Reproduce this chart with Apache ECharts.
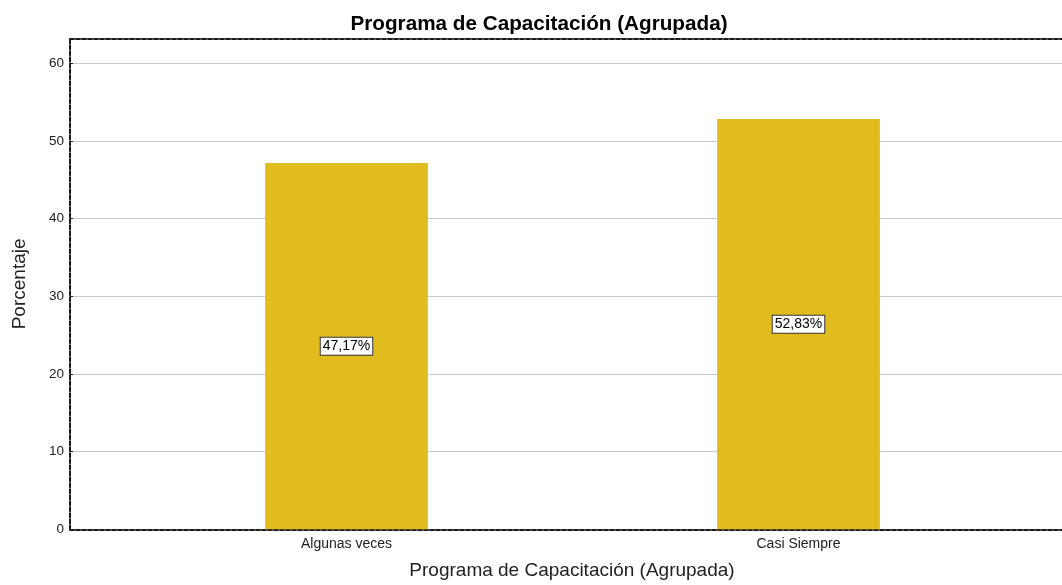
<!DOCTYPE html>
<html>
<head>
<meta charset="utf-8">
<script src="https://cdn.jsdelivr.net/npm/echarts@6/dist/echarts.min.js"></script>
<style>
  html, body { margin: 0; padding: 0; background: #fff; }
  #chart { width: 1062px; height: 585px; }
</style>
</head>
<body>
<div id="chart"></div>
<script>
// data
const categories = ["Algunas veces", "Casi Siempre"];
const percentages = [47.17, 52.83];
const yMax = 63.2;
const yStep = 10;

const font = "Liberation Sans, Arial, sans-serif";
const gridTop = 38.5;
const gridBottom = 55.7;
const dashed = { color: "#1a1a1a", width: 2, type: [4, 2] };

const chart = echarts.init(document.getElementById("chart"));

chart.setOption({
  animation: false,
  backgroundColor: "#fff",
  title: {
    text: "Programa de Capacitación (Agrupada)",
    left: 534,
    top: 9,
    textAlign: "center",
    textStyle: { fontFamily: font, fontSize: 20.7, fontWeight: "bold", color: "#000" }
  },
  grid: [
    // frame: axis, gridlines and dashed border (right edge runs off the picture)
    { left: 70, right: -12, top: gridTop, bottom: gridBottom, outerBoundsMode: "none" },
    // bars
    { left: 120.5, right: 37.5, top: gridTop, bottom: gridBottom, outerBoundsMode: "none" }
  ],
  xAxis: [
    {
      gridIndex: 0, type: "value", min: 0, max: 1,
      name: "Programa de Capacitación (Agrupada)",
      nameLocation: "middle", nameGap: 32,
      nameTextStyle: { fontFamily: font, fontSize: 19, color: "#222" },
      axisLine: { show: true, lineStyle: dashed },
      axisTick: { show: false }, axisLabel: { show: false }, splitLine: { show: false }
    },
    {
      gridIndex: 0, type: "value", min: 0, max: 1, position: "top",
      axisLine: { show: true, lineStyle: dashed },
      axisTick: { show: false }, axisLabel: { show: false }, splitLine: { show: false }
    },
    {
      gridIndex: 1, type: "category", data: categories,
      axisLine: { show: false }, axisTick: { show: false },
      axisLabel: { fontFamily: font, fontSize: 14, color: "#222", margin: 8 }
    }
  ],
  yAxis: [
    {
      gridIndex: 0, type: "value", min: 0, max: yMax, interval: yStep,
      name: "Porcentaje", nameLocation: "middle", nameGap: 41,
      nameTextStyle: { fontFamily: font, fontSize: 19, color: "#222" },
      axisLine: { show: true, lineStyle: dashed },
      axisTick: { show: true, inside: true, length: 3, lineStyle: { color: "#222" } },
      axisLabel: { fontFamily: font, fontSize: 13.5, color: "#222", margin: 6,
        showMaxLabel: false },
      splitLine: { show: true, lineStyle: { color: "#c8c8c8", width: 1.2 } }
    },
    {
      gridIndex: 1, type: "value", min: 0, max: yMax, show: false
    }
  ],
  series: [
    {
      type: "bar",
      xAxisIndex: 2,
      yAxisIndex: 1,
      data: percentages,
      barWidth: "36%",
      itemStyle: { color: "#E1BC1F" },
      label: {
        show: true,
        position: "inside",
        formatter: p => p.value.toFixed(2).replace(".", ",") + "%",
        fontFamily: font,
        fontSize: 14,
        color: "#000",
        backgroundColor: "#fff",
        borderColor: "#333",
        borderWidth: 1,
        padding: [2, 2, 1, 2]
      }
    }
  ]
});
</script>
</body>
</html>
